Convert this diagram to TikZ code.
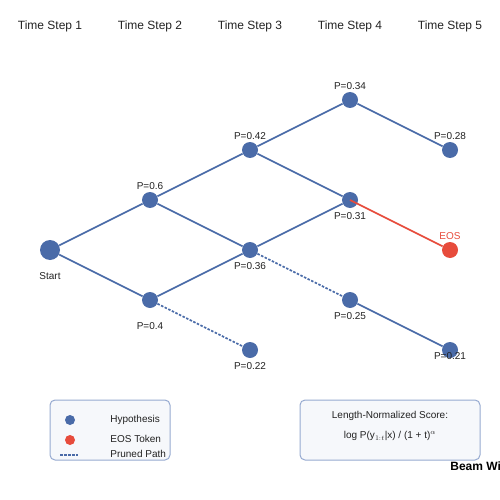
\documentclass[tikz,border=0pt]{standalone}
\usepackage{fontspec}
\setmainfont{Liberation Sans}
\definecolor{hypblue}{RGB}{74,107,168}
\definecolor{eosred}{RGB}{231,76,60}
\definecolor{boxfill}{RGB}{246,248,251}
\definecolor{boxline}{RGB}{150,170,208}
\definecolor{txt}{RGB}{34,34,34}
\tikzset{every picture/.style={line width=0.75pt}}
\tikzset{
  hyp/.style={circle,fill=hypblue,inner sep=0pt,minimum size=16pt},
  eos/.style={circle,fill=eosred,inner sep=0pt,minimum size=16pt},
  edge/.style={draw=hypblue,line width=1.6pt},
  pruned/.style={draw=hypblue,line width=1.6pt,dash pattern={on 2.5pt off 1.5pt}},
  plabel/.style={text=txt,font=\fontsize{10}{12}\selectfont,inner sep=0pt},
  steplabel/.style={text=txt,font=\fontsize{12}{14}\selectfont,inner sep=0pt},
  legbox/.style={draw=boxline,fill=boxfill,rounded corners=5pt,line width=1pt}
}

\begin{document}
\begin{tikzpicture}[x=1pt,y=1pt,yscale=-1,xscale=1]
	\useasboundingbox (0,0) rectangle (500,500);

	% Time step headers
	\foreach \i in {1,...,5}
		\node [steplabel] (ts\i) at ({50+100*(\i-1)},26) {Time Step \i};

	%Shape: Circles
	\node [hyp,minimum size=20pt] (start) at (50,250) {};
	\node [hyp] (a1) at (150,200) {};
	\node [hyp] (a2) at (150,300) {};
	\node [hyp] (b1) at (250,150) {};
	\node [hyp] (b2) at (250,250) {};
	\node [hyp] (b3) at (250,350) {};
	\node [hyp] (c1) at (350,100) {};
	\node [hyp] (c2) at (350,200) {};
	\node [hyp] (c3) at (350,300) {};
	\node [hyp] (d1) at (450,150) {};
	\node [eos] (d2) at (450,250) {};
	\node [hyp] (d3) at (450,350) {};

	%Straight Lines
	\draw [edge] (start) -- (a1);
	\draw [edge] (start) -- (a2);
	\draw [edge] (a1) -- (b1);
	\draw [edge] (a1) -- (b2);
	\draw [edge] (a2) -- (b2);
	\draw [pruned] (a2) -- (b3);
	\draw [edge] (b1) -- (c1);
	\draw [edge] (b1) -- (c2);
	\draw [edge] (b2) -- (c2);
	\draw [pruned] (b2) -- (c3);
	\draw [edge] (c1) -- (d1);
	\draw [draw=eosred,line width=1.6pt] (c2.center) -- (d2);
	\draw [edge] (c3) -- (d3);

	% Text Node
	\node [plabel] (lstart) at (50,276) {Start};
	\node [plabel] (la1) at (150,186) {P=0.6};
	\node [plabel] (la2) at (150,326) {P=0.4};
	\node [plabel] (lb1) at (250,136) {P=0.42};
	\node [plabel] (lb2) at (250,266) {P=0.36};
	\node [plabel] (lb3) at (250,366) {P=0.22};
	\node [plabel] (lc1) at (350,86) {P=0.34};
	\node [plabel] (lc2) at (350,216) {P=0.31};
	\node [plabel] (lc3) at (350,316) {P=0.25};
	\node [plabel] (ld1) at (450,136) {P=0.28};
	\node [plabel,text=eosred] (ld2) at (450,236) {EOS};
	\node [plabel] (ld3) at (450,356) {P=0.21};

	%Shape: Legend
	\draw [legbox] (50,400) rectangle (170,460);
	\node [circle,fill=hypblue,inner sep=0pt,minimum size=10pt] (kh) at (70,420) {};
	\node [circle,fill=eosred,inner sep=0pt,minimum size=10pt] (ke) at (70,440) {};
	\coordinate (kp1) at (60,455);
	\coordinate (kp2) at (78,455);
	\draw [pruned,line width=1.3pt] (kp1) -- (kp2);
	\node [plabel,anchor=west] (th) at (110,420) {Hypothesis};
	\node [plabel,anchor=west] (te) at (110,439) {EOS Token};
	\node [plabel,anchor=west] (tp) at (110,454) {Pruned Path};

	%Shape: Score box
	\draw [legbox] (300,400) rectangle (480,460);
	\node [plabel] (sc1) at (390,416) {Length-Normalized Score:};
	\node [plabel] (sc2) at (390,436) {log P(y$_{1:t}$|x) / (1 + t)$^{\alpha}$};

	% Title
	\node [text=black,font=\bfseries\fontsize{12}{14}\selectfont,anchor=west,inner sep=0pt] (title) at (450,466) {Beam Width};

	\end{tikzpicture}
\end{document}
